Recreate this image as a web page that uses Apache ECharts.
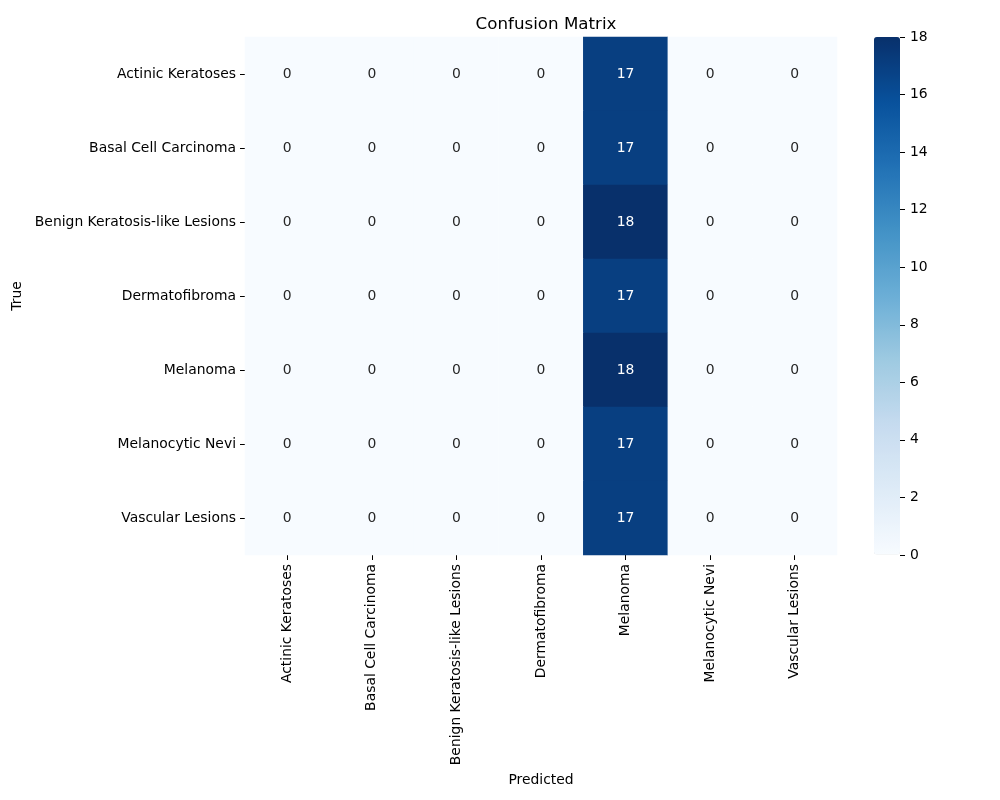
<!DOCTYPE html>
<html><head><meta charset="utf-8">
<script src="https://cdn.jsdelivr.net/npm/echarts@6/dist/echarts.min.js"></script>
<style>html,body{margin:0;padding:0;background:#fff}#c{width:1000px;height:800px}</style>
</head><body><div id="c"></div>
<script>
const classes = ['Actinic Keratoses','Basal Cell Carcinoma','Benign Keratosis-like Lesions','Dermatofibroma','Melanoma','Melanocytic Nevi','Vascular Lesions'];
const matrix = [
  [0,0,0,0,17,0,0],
  [0,0,0,0,17,0,0],
  [0,0,0,0,18,0,0],
  [0,0,0,0,17,0,0],
  [0,0,0,0,18,0,0],
  [0,0,0,0,17,0,0],
  [0,0,0,0,17,0,0]
];
const colorbarTicks = ['0','2','4','6','8','10','12','14','16','18'];
const blues = ['#f7fbff','#deebf7','#c6dbef','#9ecae1','#6baed6','#4292c6','#2171b5','#08519c','#08306b'];
const vmin = 0, vmax = 18;
const FONT = 'DejaVu Sans';
const FS = 13.9;

const data = [];
matrix.forEach((row, i) => row.forEach((v, j) => {
  data.push({value: [j, i, v], label: {color: v > (vmin+vmax)/2 ? '#ffffff' : '#262626'}});
}));

const chart = echarts.init(document.getElementById('c'), null, {renderer: 'canvas'});
chart.setOption({
  animation: false,
  textStyle: {fontFamily: FONT},
  title: {text: 'Confusion Matrix', left: 541, top: 11, textAlign: 'center',
    textStyle: {fontFamily: FONT, fontSize: 16.7, fontWeight: 'normal', color: '#000'}},
  grid: [
    {left: 245, right: 163, top: 37, bottom: 245, containLabel: false},
    {left: 874, width: 26, top: 37, bottom: 245, containLabel: false}
  ],
  xAxis: [
    {type: 'category', data: classes, gridIndex: 0,
      name: 'Predicted', nameLocation: 'middle', nameGap: 215,
      nameTextStyle: {fontFamily: FONT, fontSize: FS, color: '#000'},
      axisLine: {show: false}, splitLine: {show: false},
      axisTick: {show: true, alignWithLabel: true, length: 5, lineStyle: {color: '#000'}},
      axisLabel: {rotate: 90, fontFamily: FONT, fontSize: FS, color: '#000', margin: 9, interval: 0}},
    {type: 'category', data: [''], gridIndex: 1, show: false}
  ],
  yAxis: [
    {type: 'category', data: classes, gridIndex: 0, inverse: true,
      name: 'True', nameLocation: 'middle', nameGap: 214, nameRotate: 90,
      nameTextStyle: {fontFamily: FONT, fontSize: FS, color: '#000'},
      axisLine: {show: false}, splitLine: {show: false},
      axisTick: {show: true, alignWithLabel: true, length: 5, lineStyle: {color: '#000'}},
      axisLabel: {fontFamily: FONT, fontSize: FS, color: '#000', margin: 9, interval: 0}},
    {type: 'category', data: colorbarTicks, gridIndex: 1, position: 'right', boundaryGap: false,
      axisLine: {show: false, onZero: false}, splitLine: {show: false},
      axisTick: {show: true, length: 5, interval: 0, lineStyle: {color: '#000000', width: 1}},
      axisLabel: {fontFamily: FONT, fontSize: FS, color: '#000', margin: 10, interval: 0}}
  ],
  visualMap: {
    type: 'continuous', min: vmin, max: vmax, seriesIndex: 0, calculable: false,
    left: 874, top: 37, itemWidth: 26, itemHeight: 517.5, padding: 0,
    text: null, showLabel: false, hoverLink: false, realtime: false,
    inRange: {color: blues}
  },
  series: [{
    type: 'heatmap', xAxisIndex: 0, yAxisIndex: 0, data: data,
    label: {show: true, fontFamily: FONT, fontSize: FS},
    itemStyle: {borderWidth: 0},
    emphasis: {disabled: true}
  }, {
    type: 'line', xAxisIndex: 1, yAxisIndex: 1, data: [], silent: true, showSymbol: false
  }]
});
</script></body></html>
